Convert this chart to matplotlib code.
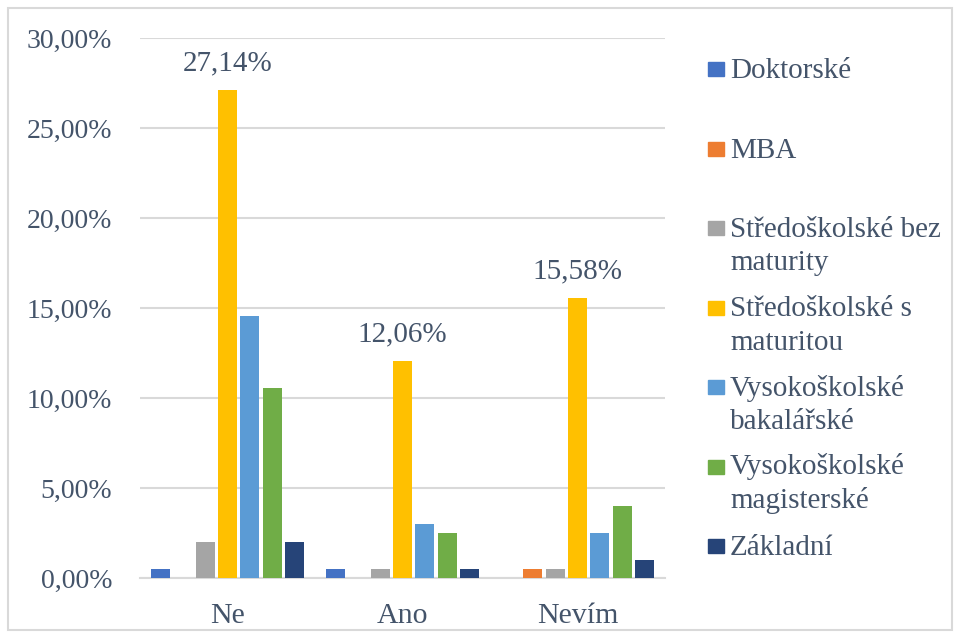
import numpy as np
import matplotlib.pyplot as plt
from matplotlib.patches import Rectangle
from matplotlib.ticker import FuncFormatter

plt.rcParams['font.family'] = ['Liberation Serif', 'DejaVu Serif']

categories = ['Ne', 'Ano', 'Nevím']
series = ['Doktorské', 'MBA', 'Středoškolské bez\nmaturity', 'Středoškolské s\nmaturitou',
          'Vysokoškolské\nbakalářské', 'Vysokoškolské\nmagisterské', 'Základní']
values = [
    [0.50, 0.50, 0.00],    # Doktorské
    [0.00, 0.00, 0.50],    # MBA
    [2.01, 0.50, 0.50],    # SŠ bez maturity
    [27.14, 12.06, 15.58], # SŠ s maturitou
    [14.57, 3.02, 2.51],   # VŠ bakalářské
    [10.55, 2.51, 4.02],   # VŠ magisterské
    [2.01, 0.50, 1.01],    # Základní
]
colors = ['#4472C4', '#ED7D31', '#A5A5A5', '#FFC000', '#5B9BD5', '#70AD47', '#264478']
labelled = 3  # only this series shows data labels

text_col = '#44546A'
grid_col = '#D9D9D9'

fig = plt.figure(figsize=(9.55, 6.38), dpi=100)
ax = fig.add_axes([0.1466, 0.094, 0.5497, 0.8464])

x = np.arange(len(categories))
pitch = 0.1274
width = 0.109
n = len(series)
for i, (name, vals, c) in enumerate(zip(series, values, colors)):
    xs = x + (i - (n - 1) / 2) * pitch
    ax.bar(xs, vals, width=width, color=c, zorder=3)
    if i == labelled:
        for xi, v in zip(xs, vals):
            ax.text(xi, v + 1.45, f'{v:.2f}%'.replace('.', ','), ha='center', va='center',
                    fontsize=21, color=text_col)

ax.set_ylim(0, 30)
ax.set_xlim(-0.5, 2.5)
ax.set_yticks(np.arange(0, 31, 5))
ax.yaxis.set_major_formatter(FuncFormatter(lambda v, p: f'{v:.2f}%'.replace('.', ',')))
ax.grid(axis='y', color=grid_col, linewidth=1.5, zorder=0)
ax.set_xticks(x)
ax.set_xticklabels(categories)
for s in ['top', 'right', 'left']:
    ax.spines[s].set_visible(False)
ax.spines['bottom'].set_color(grid_col)
ax.spines['bottom'].set_linewidth(1.5)
ax.tick_params(length=0, colors=text_col)
ax.tick_params(axis='y', pad=20, labelsize=20)
ax.tick_params(axis='x', pad=18, labelsize=21.5)

# legend drawn by hand to match spacing
W, H = 955, 638
line_h = 33
for i, (name, c) in enumerate(zip(series, colors)):
    base = 78 + i * 79.5
    nlines = name.count('\n') + 1
    fig.patches.append(Rectangle((708 / W, 1 - (base - 2) / H), 16 / W, 14 / H,
                                 transform=fig.transFigure, color=c))
    fig.text(730 / W, 1 - (base + (nlines - 1) * line_h) / H, name, ha='left',
             va='baseline', fontsize=21, color=text_col, linespacing=1.37)

fig.patches.append(Rectangle((8 / W, 8 / H), 944 / W, 622 / H, transform=fig.transFigure,
                             fill=False, edgecolor='#D9D9D9', linewidth=1.5))

fig.savefig('out.png', dpi=100)
